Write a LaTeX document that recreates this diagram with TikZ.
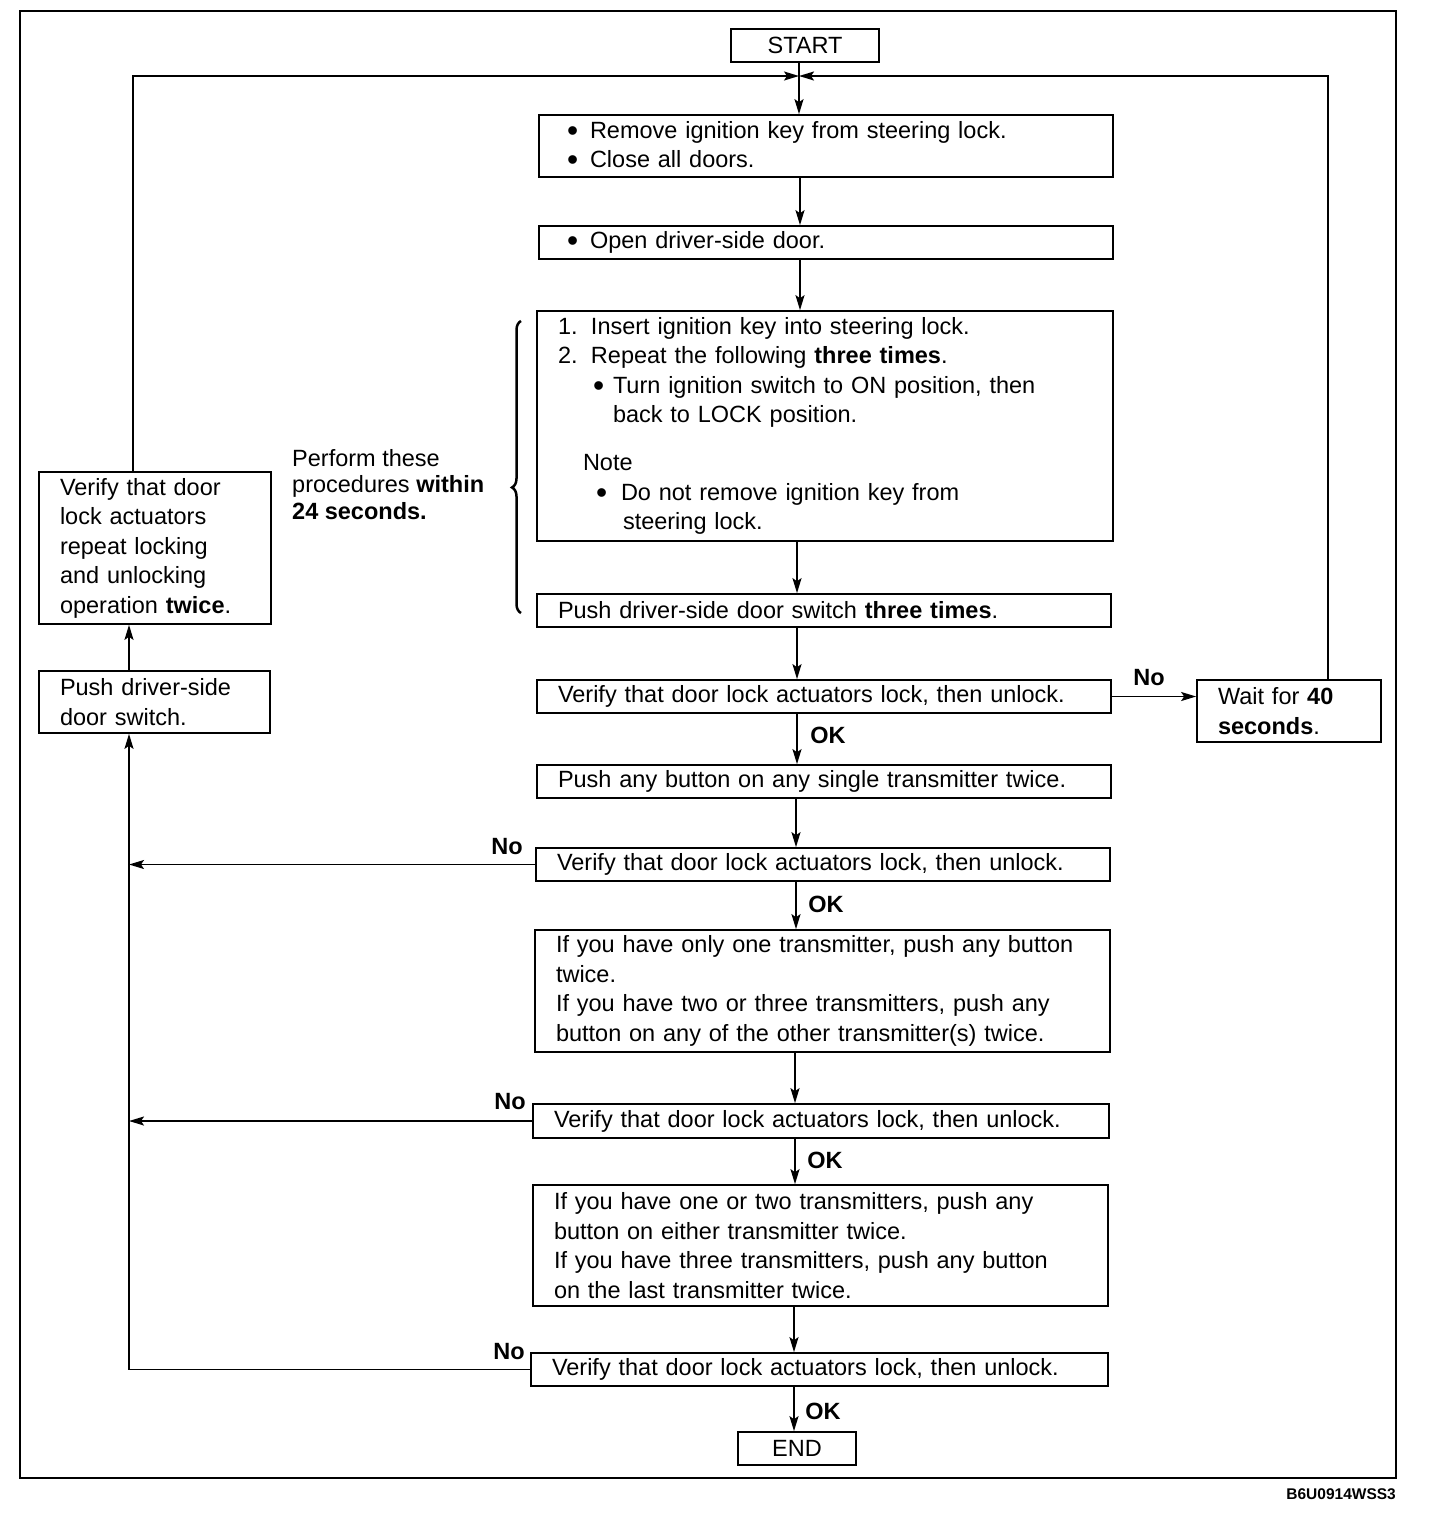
\documentclass[tikz,border=0pt]{standalone}
\usepackage{fontspec}
\setmainfont{Liberation Sans}
\usetikzlibrary{arrows.meta,decorations.pathreplacing}
\newcommand{\bigbul}{\raisebox{-3pt}{\scalebox{1.35}{\textbullet}}}
\begin{document}
\begin{tikzpicture}[x=1pt,y=-1pt,
  fnt/.style={font=\fontsize{23.5}{29.5}\selectfont},
  box/.style={draw, line width=1.7pt, inner xsep=21pt, inner ysep=0pt, align=left, fnt},
  cbox/.style={draw, line width=1.7pt, inner sep=0pt, fnt},
  ln/.style={line width=1.7pt},
  arr/.style={ln, -{Stealth[length=15pt,width=9pt,inset=3pt]}},
  lbl/.style={font=\fontsize{23.5}{28}\selectfont\bfseries, inner sep=0pt}
]
\useasboundingbox (0,0) rectangle (1456,1516);
\draw[line width=2.4pt] (20,11) rectangle (1396,1478);

% main column
\node[cbox, minimum width=148pt, minimum height=33pt] (start) at (805,45.5) {START};
\node[box, minimum width=574pt, minimum height=62pt, text width=532pt] (b1) at (826,146)
 {\hspace*{7pt}\makebox[23pt][l]{\bigbul}Remove ignition key from steering lock.\\
  \hspace*{7pt}\makebox[23pt][l]{\bigbul}Close all doors.};
\node[box, minimum width=574pt, minimum height=33pt, text width=532pt] (b2) at (826,242.5)
 {\hspace*{7pt}\makebox[23pt][l]{\bigbul}Open driver-side door.};
\node[box, minimum width=576pt, minimum height=230pt, text width=534pt] (b3) at (825,426)
 {\makebox[33pt][l]{1.}Insert ignition key into steering lock.\\
  \makebox[33pt][l]{2.}Repeat the following \textbf{three times}.\\
  \hspace*{35pt}\makebox[20pt][l]{\bigbul}Turn ignition switch to ON position, then\\
  \hspace*{55pt}back to LOCK position.\\[18.5pt]
  \hspace*{25pt}Note\\
  \hspace*{38pt}\makebox[25pt][l]{\bigbul}Do not remove ignition key from\\
  \hspace*{65pt}steering lock.};
\node[box, minimum width=574pt, minimum height=33pt, text width=532pt] (b4) at (824,610.5)
 {Push driver-side door switch \textbf{three times}.};
\node[box, minimum width=574pt, minimum height=33pt, text width=532pt] (b5) at (824,696.5)
 {Verify that door lock actuators lock, then unlock.};
\node[box, minimum width=184pt, minimum height=62pt, text width=142pt] (wait) at (1289,711)
 {Wait for \textbf{40}\\ \textbf{seconds}.};
\node[box, minimum width=574pt, minimum height=33pt, text width=532pt] (b6) at (824,781.5)
 {Push any button on any single transmitter twice.};
\node[box, minimum width=574pt, minimum height=33pt, text width=532pt] (b7) at (823,864.5)
 {Verify that door lock actuators lock, then unlock.};
\node[box, minimum width=575pt, minimum height=122pt, text width=533pt] (b8) at (822.5,991)
 {If you have only one transmitter, push any button\\
  twice.\\
  If you have two or three transmitters, push any\\
  button on any of the other transmitter(s) twice.};
\node[box, minimum width=576pt, minimum height=34pt, text width=534pt] (b9) at (821,1121)
 {Verify that door lock actuators lock, then unlock.};
\node[box, minimum width=575pt, minimum height=121pt, text width=533pt] (b10) at (820.5,1245.5)
 {If you have one or two transmitters, push any\\
  button on either transmitter twice.\\
  If you have three transmitters, push any button\\
  on the last transmitter twice.};
\node[box, minimum width=577pt, minimum height=33pt, text width=535pt] (b11) at (819.5,1369.5)
 {Verify that door lock actuators lock, then unlock.};
\node[cbox, minimum width=118pt, minimum height=33pt] (end) at (797,1448.5) {END};

% left column
\node[box, minimum width=232pt, minimum height=152pt, text width=190pt] (ver) at (155,548)
 {Verify that door\\ lock actuators\\ repeat locking\\ and unlocking\\ operation \textbf{twice}.};
\node[box, minimum width=231pt, minimum height=62pt, text width=189pt] (push) at (154.5,702)
 {Push driver-side\\ door switch.};

% note text and brace
\node[anchor=north west, align=left, inner sep=0pt, font=\fontsize{23.5}{26.5}\selectfont] (perf) at (292,449)
 {Perform these\\ procedures \textbf{within}\\ \textbf{24 seconds.}};
\draw[line width=2.5pt, decorate, decoration={brace, amplitude=9pt, aspect=0.43}] (521,613) -- (521,321);

% coordinates
\coordinate (j) at (799,76);
\coordinate (c1) at (800,0);
\coordinate (c2) at (797,0);
\coordinate (c3) at (796,0);
\coordinate (c4) at (795,0);
\coordinate (c5) at (794,0);
\coordinate (L) at (129,0);
\coordinate (vt) at (133,0);
\coordinate (cr) at (1328,0);

% connectors
\draw[ln] (start.south -| j) -- (j);
\draw[arr] (j) -- (b1.north -| j);
\draw[arr] (b1.south -| c1) -- (b2.north -| c1);
\draw[arr] (b2.south -| c1) -- (b3.north -| c1);
\draw[arr] (b3.south -| c2) -- (b4.north -| c2);
\draw[arr] (b4.south -| c2) -- (b5.north -| c2);
\draw[arr] (b5.south -| c2) -- (b6.north -| c2);
\draw[arr] (b6.south -| c3) -- (b7.north -| c3);
\draw[arr] (b7.south -| c3) -- (b8.north -| c3);
\draw[arr] (b8.south -| c4) -- (b9.north -| c4);
\draw[arr] (b9.south -| c4) -- (b10.north -| c4);
\draw[arr] (b10.south -| c5) -- (b11.north -| c5);
\draw[arr] (b11.south -| c5) -- (end.north -| c5);

\draw[arr] (b5.east) -- (b5.east -| wait.west);
\draw[arr] (wait.north -| cr) |- (j);
\draw[arr] (ver.north -| vt) |- (j);
\draw[arr] (b7.west) -- (b7.west -| L);
\draw[arr] (b9.west) -- (b9.west -| L);
\draw[arr] (b11.west) -| (push.south -| L);
\draw[arr] (push.north -| L) -- (ver.south -| L);

% labels
\node[lbl] (no1) at (1149,678) {No};
\node[lbl] (ok1) at (828,735) {OK};
\node[lbl] (no2) at (507,847) {No};
\node[lbl] (ok2) at (826,904) {OK};
\node[lbl] (no3) at (510,1102) {No};
\node[lbl] (ok3) at (825,1160) {OK};
\node[lbl] (no4) at (509,1352) {No};
\node[lbl] (ok4) at (823,1411) {OK};

\node[anchor=east, inner sep=0pt, font=\fontsize{15.5}{18}\selectfont\bfseries] (code) at (1396,1494) {B6U0914WSS3};
\end{tikzpicture}
\end{document}
